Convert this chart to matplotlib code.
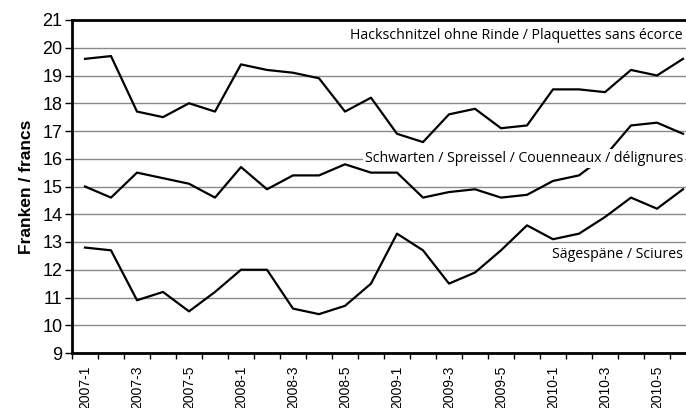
import matplotlib.pyplot as plt
import numpy as np

# periods: 6 per year, 2007-1 .. 2010-6
periods = [f"{y}-{p}" for y in range(2007, 2011) for p in range(1, 7)]

hackschnitzel = [19.6, 19.7, 17.7, 17.5, 18.0, 17.7, 19.4, 19.2, 19.1, 18.9, 17.7, 18.2,
                 16.9, 16.6, 17.6, 17.8, 17.1, 17.2, 18.5, 18.5, 18.4, 19.2, 19.0, 19.6]
schwarten = [15.0, 14.6, 15.5, 15.3, 15.1, 14.6, 15.7, 14.9, 15.4, 15.4, 15.8, 15.5,
             15.5, 14.6, 14.8, 14.9, 14.6, 14.7, 15.2, 15.4, 16.1, 17.2, 17.3, 16.9]
saegespaene = [12.8, 12.7, 10.9, 11.2, 10.5, 11.2, 12.0, 12.0, 10.6, 10.4, 10.7, 11.5,
               13.3, 12.7, 11.5, 11.9, 12.7, 13.6, 13.1, 13.3, 13.9, 14.6, 14.2, 14.9]

labels = ["Hackschnitzel ohne Rinde / Plaquettes sans écorce",
          "Schwarten / Spreissel / Couenneaux / délignures",
          "Sägespäne / Sciures"]

fig = plt.figure(figsize=(6.86, 4.08), dpi=100)
ax = fig.add_axes([72 / 686, 1 - 353 / 408, 624 / 686, 333 / 408])

x = np.arange(len(periods))
for s in (hackschnitzel, schwarten, saegespaene):
    ax.plot(x, s, color='black', lw=1.6, zorder=3)

ax.set_xlim(-0.5, len(periods) - 0.5)
ax.set_ylim(9, 21)
ax.set_yticks(range(9, 22))
ax.yaxis.grid(True, color='#8a8a8a', lw=1.0)
ax.set_axisbelow(True)

ax.set_xticks(x[::2])
ax.set_xticklabels(periods[::2], rotation=90, fontsize=10, family='Liberation Sans')
ax.set_xticks(np.arange(-0.5, len(periods), 1), minor=True)
ax.tick_params(axis='x', which='major', length=0, pad=9)
ax.tick_params(axis='x', which='minor', length=4, width=1, direction='out')
ax.tick_params(axis='y', length=5, width=1, labelsize=13, pad=2)
for t in ax.get_yticklabels():
    t.set_family('Liberation Sans')

for sp in ('left', 'bottom', 'top'):
    ax.spines[sp].set_linewidth(2)
ax.spines['right'].set_visible(False)

ax.set_ylabel('Franken / francs', fontsize=12.5, fontweight='bold',
              family='Liberation Sans', labelpad=6)

box = dict(facecolor='white', edgecolor='none', pad=1.5)
ax.text(23.0, 20.45, labels[0], ha='right', va='center', fontsize=10.2,
        family='Open Sans', bbox=box, zorder=4)
ax.text(23.0, 16.0, labels[1], ha='right', va='center', fontsize=10.2,
        family='Open Sans', bbox=box, zorder=4)
ax.text(23.0, 12.55, labels[2], ha='right', va='center', fontsize=10.2,
        family='Open Sans', bbox=box, zorder=4)

fig.savefig('out.png', dpi=100)
